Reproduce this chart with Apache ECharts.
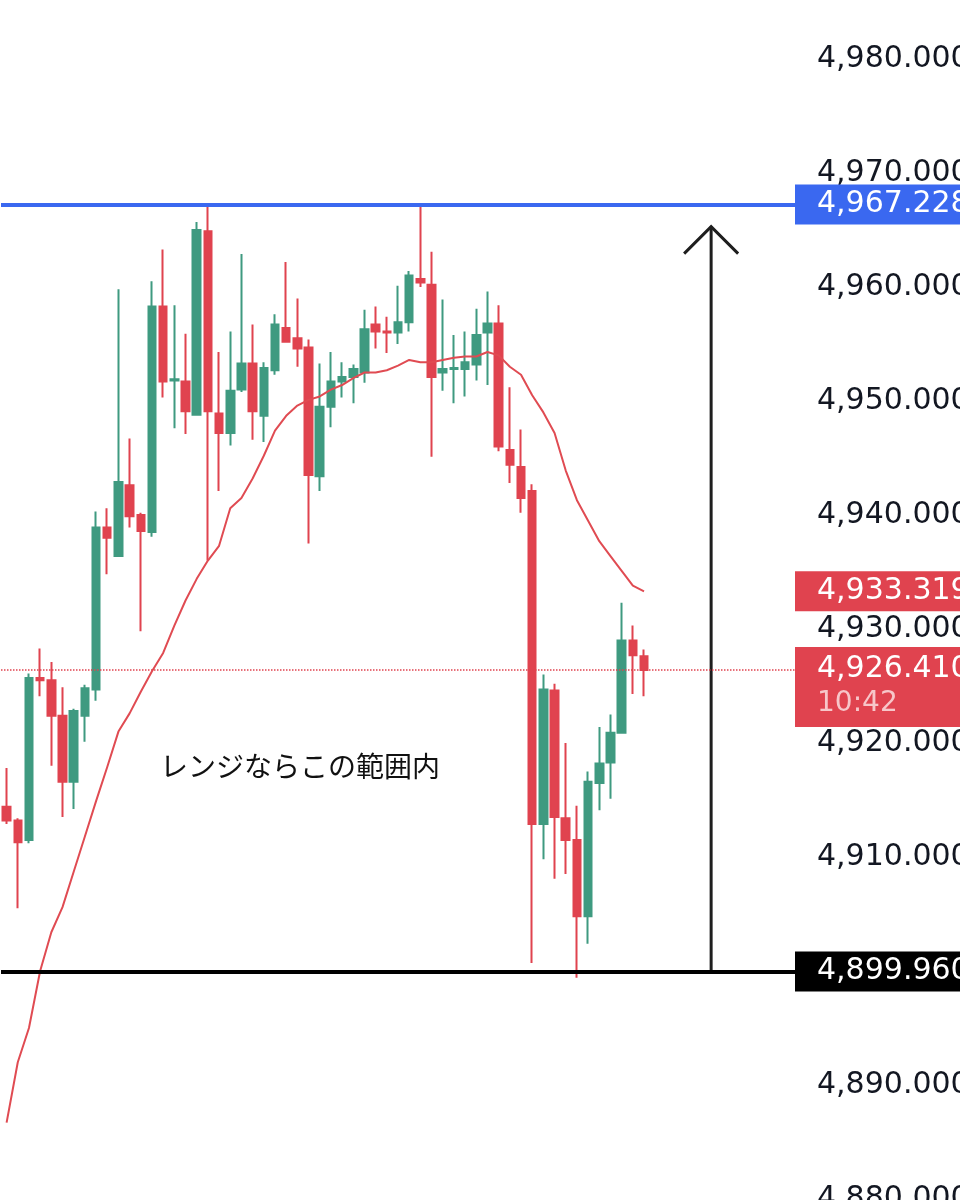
<!DOCTYPE html>
<html>
<head>
<meta charset="utf-8">
<script src="https://cdn.jsdelivr.net/npm/echarts@6/dist/echarts.min.js"></script>
<style>html,body{margin:0;padding:0;background:#fff}#main{width:960px;height:1200px}</style>
</head>
<body>
<div id="main"></div>
<script>
// [open, close, low, high]
var candles = [
  [4914.4, 4913.2, 4912.9, 4917.8],
  [4913.2, 4911.3, 4905.5, 4913.4],
  [4911.5, 4925.7, 4911.2, 4926.1],
  [4925.7, 4925.5, 4924.1, 4928.3],
  [4925.5, 4922.4, 4918.0, 4927.1],
  [4922.4, 4916.6, 4913.5, 4924.9],
  [4916.6, 4922.8, 4914.2, 4923.0],
  [4922.4, 4924.8, 4920.1, 4925.1],
  [4924.7, 4938.9, 4923.7, 4940.3],
  [4938.9, 4938.0, 4934.8, 4940.6],
  [4936.4, 4942.9, 4936.4, 4959.8],
  [4942.6, 4939.9, 4938.9, 4946.7],
  [4940.0, 4938.6, 4929.8, 4940.2],
  [4938.5, 4958.3, 4938.1, 4960.5],
  [4958.3, 4951.7, 4950.3, 4963.3],
  [4951.8, 4951.9, 4947.6, 4958.4],
  [4951.7, 4949.1, 4947.1, 4955.9],
  [4948.8, 4965.0, 4948.8, 4965.7],
  [4964.9, 4949.1, 4936.0, 4967.2],
  [4948.9, 4947.2, 4942.1, 4954.3],
  [4947.2, 4950.9, 4946.1, 4956.1],
  [4951.0, 4953.3, 4950.8, 4962.9],
  [4953.3, 4949.1, 4946.6, 4956.7],
  [4948.7, 4952.9, 4946.4, 4953.4],
  [4952.7, 4956.7, 4952.3, 4957.6],
  [4956.4, 4955.2, 4955.1, 4962.2],
  [4955.5, 4954.6, 4953.0, 4959.0],
  [4954.7, 4943.5, 4937.5, 4955.4],
  [4943.4, 4949.5, 4942.1, 4953.3],
  [4949.5, 4951.7, 4947.7, 4954.3],
  [4951.7, 4952.1, 4950.3, 4953.4],
  [4952.1, 4952.8, 4949.8, 4953.2],
  [4952.5, 4956.3, 4951.6, 4958.0],
  [4956.7, 4956.1, 4954.6, 4958.3],
  [4956.1, 4956.0, 4954.2, 4957.4],
  [4956.0, 4956.9, 4955.0, 4960.1],
  [4956.9, 4961.0, 4956.1, 4961.4],
  [4960.7, 4960.4, 4960.0, 4967.2],
  [4960.2, 4952.1, 4945.1, 4963.1],
  [4952.5, 4952.8, 4950.9, 4958.9],
  [4952.8, 4952.9, 4949.8, 4955.8],
  [4952.8, 4953.4, 4950.4, 4956.1],
  [4953.2, 4955.8, 4951.8, 4958.1],
  [4956.0, 4956.8, 4951.4, 4959.6],
  [4956.8, 4946.0, 4945.6, 4958.4],
  [4945.7, 4944.4, 4942.8, 4951.2],
  [4944.2, 4941.5, 4940.2, 4947.5],
  [4942.1, 4912.9, 4900.7, 4942.7],
  [4912.9, 4924.7, 4909.8, 4926.0],
  [4924.6, 4913.5, 4908.1, 4925.2],
  [4913.4, 4911.5, 4908.5, 4920.0],
  [4911.5, 4904.8, 4899.4, 4914.5],
  [4904.8, 4916.6, 4902.4, 4917.5],
  [4916.5, 4918.2, 4914.1, 4921.4],
  [4918.3, 4920.9, 4915.1, 4922.5],
  [4920.9, 4929.0, 4920.9, 4932.3],
  [4929.0, 4927.7, 4924.3, 4930.3],
  [4927.6, 4926.4, 4924.1, 4928.2]
];
var maValues = [
  4886.7, 4892.0, 4895.0, 4900.0, 4903.4, 4905.6, 4908.7, 4911.8, 4914.9, 4917.9,
  4921.0, 4922.6, 4924.5, 4926.3, 4927.9, 4930.3, 4932.5, 4934.4, 4936.0, 4937.3,
  4940.6, 4941.5, 4943.2, 4945.2, 4947.4, 4948.7, 4949.6, 4950.1, 4950.4, 4951.0,
  4951.4, 4952.0, 4952.5, 4952.5, 4952.7, 4953.1, 4953.6, 4953.4, 4953.4, 4953.6,
  4953.8, 4953.9, 4953.9, 4954.3, 4954.0, 4953.0, 4952.3, 4950.5, 4949.0, 4947.2,
  4943.9, 4941.3, 4939.5, 4937.7, 4936.4, 4935.1, 4933.8, 4933.3
];
var rangeHigh = 4967.228;
var rangeLow = 4899.96;
var lastPrice = 4926.41;
var maLast = 4933.319;
var countdown = '10:42';
var slots = 71;

var cats = [];
for (var i = 0; i < slots; i++) cats.push(i);

var up = '#3f9a80', down = '#e0434f';
var labelFont = 'DejaVu Sans';
function fmt(v) {
  return v.toLocaleString('en-US', {minimumFractionDigits: 3, maximumFractionDigits: 3});
}

var myChart = echarts.init(document.getElementById('main'));
var option = {
  animation: false,
  grid: {left: 1, right: 165, top: 59, bottom: 1, containLabel: false, outerBoundsMode: 'none'},
  xAxis: {
    type: 'category', data: cats, boundaryGap: true,
    axisLine: {show: false}, axisTick: {show: false}, axisLabel: {show: false}, splitLine: {show: false}
  },
  yAxis: {
    type: 'value', position: 'right', min: 4880, max: 4980, interval: 10, scale: true,
    axisLine: {show: false}, axisTick: {show: false}, splitLine: {show: false},
    axisLabel: {
      margin: 22, fontSize: 30, color: '#131722', fontFamily: labelFont,
      formatter: function (v) { return fmt(v); }
    }
  },
  series: [
    {
      type: 'candlestick', data: candles, barWidth: 8,
      itemStyle: {color: up, color0: down, borderColor: up, borderColor0: down, borderWidth: 2},
      markLine: {
        silent: true, symbol: 'none',
        label: {position: 'end', distance: 0, fontSize: 30, color: '#fff', fontFamily: labelFont,
                padding: [5, 40, 5, 22], align: 'left'},
        data: [
          {yAxis: rangeHigh, lineStyle: {color: '#3a68f0', width: 4, type: 'solid'},
           label: {backgroundColor: '#3a68f0', formatter: fmt(rangeHigh)}},
          {yAxis: rangeLow, lineStyle: {color: '#000', width: 4, type: 'solid'},
           label: {backgroundColor: '#000', formatter: fmt(rangeLow)}},
          {yAxis: lastPrice, lineStyle: {color: down, width: 1.5, type: 'dotted'},
           label: {backgroundColor: down, offset: [0, 17], padding: [4, 40, 6, 22],
                   formatter: '{a|' + fmt(lastPrice) + '}\n{b|' + countdown + '}',
                   rich: {
                     a: {fontSize: 30, color: '#fff', fontFamily: labelFont, lineHeight: 36},
                     b: {fontSize: 28, color: '#f7c6c9', fontFamily: labelFont, lineHeight: 34}
                   }}}
        ]
      }
    },
    {
      type: 'line', data: maValues, symbol: 'none', smooth: false,
      lineStyle: {color: '#e04b52', width: 2},
      markLine: {
        silent: true, symbol: 'none',
        lineStyle: {width: 0, color: 'rgba(0,0,0,0)'},
        label: {position: 'end', distance: 0, fontSize: 30, color: '#fff', fontFamily: labelFont,
                padding: [5, 40, 5, 22], align: 'left', backgroundColor: down, formatter: fmt(maLast)},
        data: [{yAxis: maLast}]
      }
    }
  ]
};
myChart.setOption(option);

// arrow showing the range, anchored to data coordinates
var arrowBottom = myChart.convertToPixel({gridIndex: 0}, [63, rangeLow]);
var arrowTop = myChart.convertToPixel({gridIndex: 0}, [63, 4965.3]);
myChart.setOption({
  graphic: [
    {type: 'line', shape: {x1: arrowBottom[0], y1: arrowBottom[1], x2: arrowTop[0], y2: arrowTop[1]},
     style: {stroke: '#1e1e1e', lineWidth: 3}},
    {type: 'polyline', shape: {points: [[arrowTop[0] - 27, arrowTop[1] + 27], [arrowTop[0], arrowTop[1]], [arrowTop[0] + 27, arrowTop[1] + 27]]},
     style: {stroke: '#1e1e1e', lineWidth: 3, fill: null}},
    {type: 'text', left: 160, top: 752,
     style: {text: 'レンジならこの範囲内', fontSize: 28, fill: '#111', fontFamily: 'Noto Sans CJK JP'}}
  ]
});
</script>
</body>
</html>
